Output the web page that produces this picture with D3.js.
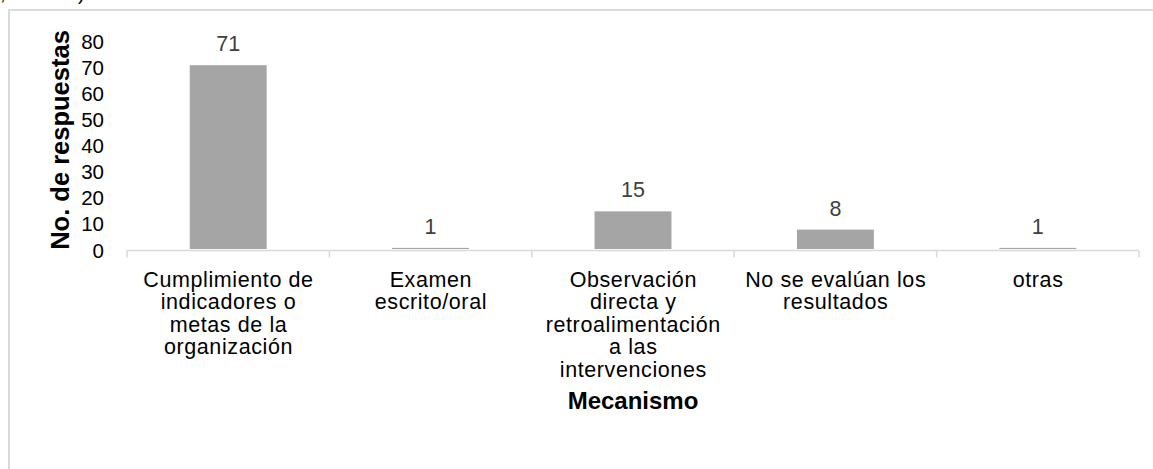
<!DOCTYPE html>
<html>
<head>
<meta charset="utf-8">
<script src="https://cdn.jsdelivr.net/npm/d3@7"></script>
<style>
  html, body { margin: 0; padding: 0; background: #fff; }
  svg { display: block; }
  text { font-family: "Liberation Sans", Arial, sans-serif; }
</style>
</head>
<body>
<svg id="chart" width="1153" height="469"></svg>
<script>
// Mecanismos de evaluación y número de respuestas
const categories = [
  ["Cumplimiento de", "indicadores o", "metas de la", "organización"],
  ["Examen", "escrito/oral"],
  ["Observación", "directa y", "retroalimentación", "a las", "intervenciones"],
  ["No se evalúan los", "resultados"],
  ["otras"]
];
const values = [71, 1, 15, 8, 1];
const yTicks = [0, 10, 20, 30, 40, 50, 60, 70, 80];
const yTitle = "No. de respuestas";
const xTitle = "Mecanismo";

const svg = d3.select("#chart");

// chart area frame
svg.append("rect")
  .attr("x", 9).attr("y", 10)
  .attr("width", 1160).attr("height", 480)
  .attr("fill", "none")
  .attr("stroke", "#d9d9d9")
  .attr("stroke-width", 2);

// tail of the preceding caption line
svg.append("text").attr("x", 0).attr("y", 0).attr("font-size", 20).attr("fill", "#000").text(",");
svg.append("text").attr("x", 78).attr("y", 0).attr("font-size", 20).attr("fill", "#000").text(")");

const plotLeft = 127, plotRight = 1139, plotTop = 41.7, plotBottom = 250.5;

const x = d3.scaleBand()
  .domain(d3.range(categories.length))
  .range([plotLeft, plotRight])
  .paddingInner(0.62)
  .paddingOuter(0.31);

const y = d3.scaleLinear().domain([0, 80]).range([plotBottom, plotTop]);

// y axis labels (no axis line)
const yAxis = svg.append("g")
  .attr("transform", `translate(${plotLeft - 23},0)`)
  .call(d3.axisLeft(y).tickValues(yTicks).tickSize(0).tickPadding(0));
yAxis.select(".domain").remove();
yAxis.selectAll("text")
  .attr("font-size", 20.5)
  .attr("fill", "#000")
  .attr("font-family", "'Liberation Sans', Arial, sans-serif");

// bars
svg.append("g").selectAll("rect")
  .data(values)
  .join("rect")
  .attr("x", (d, i) => x(i))
  .attr("width", x.bandwidth())
  .attr("y", d => y(d))
  .attr("height", d => y(0) - y(d) - 1.5)
  .attr("fill", "#a5a5a5");

// value labels
svg.append("g").selectAll("text")
  .data(values)
  .join("text")
  .attr("x", (d, i) => x(i) + x.bandwidth() / 2)
  .attr("y", d => y(d) - 14)
  .attr("text-anchor", "middle")
  .attr("font-size", 21.5)
  .attr("fill", "#404040")
  .text(d => d);

// category axis: baseline and boundary ticks
const step = x.step();
const axisG = svg.append("g");
axisG.append("line")
  .attr("x1", plotLeft).attr("x2", plotRight)
  .attr("y1", plotBottom).attr("y2", plotBottom)
  .attr("stroke", "#d9d9d9").attr("stroke-width", 1.5);
axisG.selectAll("line.tick")
  .data(d3.range(categories.length + 1))
  .join("line")
  .attr("class", "tick")
  .attr("x1", i => plotLeft + i * step).attr("x2", i => plotLeft + i * step)
  .attr("y1", plotBottom).attr("y2", plotBottom + 7)
  .attr("stroke", "#d9d9d9").attr("stroke-width", 1.5);

// category labels
const catG = svg.append("g").selectAll("text")
  .data(categories)
  .join("text")
  .attr("text-anchor", "middle")
  .attr("font-size", 21.5)
  .attr("letter-spacing", 0.6)
  .attr("fill", "#000");
catG.selectAll("tspan")
  .data((lines, i) => lines.map(l => ({ l, i })))
  .join("tspan")
  .attr("x", d => x(d.i) + x.bandwidth() / 2 + 0.3)
  .attr("y", (d, j) => 286.5 + j * 22.5)
  .text(d => d.l);

// axis titles
svg.append("text")
  .attr("x", (plotLeft + plotRight) / 2)
  .attr("y", 409)
  .attr("text-anchor", "middle")
  .attr("font-size", 24)
  .attr("font-weight", "bold")
  .attr("fill", "#000")
  .text(xTitle);

svg.append("text")
  .attr("transform", `translate(69,140) rotate(-90)`)
  .attr("text-anchor", "middle")
  .attr("font-size", 25.5)
  .attr("font-weight", "bold")
  .attr("fill", "#000")
  .text(yTitle);
</script>
</body>
</html>
